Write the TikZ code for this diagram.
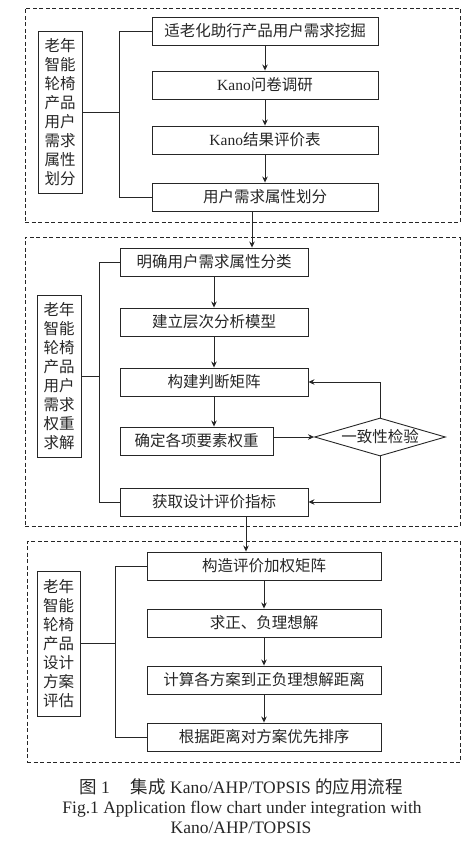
\documentclass[tikz,border=0pt]{standalone}
\usepackage{fontspec}
\setmainfont{Liberation Serif}
\newfontfamily\cjk{Noto Sans CJK SC}
\usetikzlibrary{arrows.meta,shapes.geometric}
\definecolor{ink}{HTML}{262626}
\tikzset{
  box/.style={draw=ink, line width=0.9pt, minimum height=28pt, inner sep=0pt,
    font=\cjk\fontsize{15.5}{19}\selectfont, text=ink},
  sidebox/.style={draw=ink, line width=0.9pt, inner sep=0pt, align=center,
    font=\cjk\fontsize{15.5}{19}\selectfont, text=ink},
  panel/.style={draw=ink, line width=0.9pt, dash pattern=on 4pt off 2.5pt},
  conn/.style={draw=ink, line width=0.9pt},
  arr/.style={conn, -{Stealth[length=6pt,width=5.5pt]}},
  dia/.style={draw=ink, line width=0.9pt, shape=diamond, aspect=3.45, inner sep=0pt,
    minimum width=131pt, minimum height=38pt,
    font=\cjk\fontsize{15.5}{19}\selectfont, text=ink},
  captext/.style={text=ink, inner sep=0pt, font=\fontsize{17.5}{20}\selectfont}
}
\begin{document}
\begin{tikzpicture}[x=1pt,y=-1pt]
\useasboundingbox (0,0) rectangle (470,845);
% ---------- panel 1
\node[panel, minimum width=435pt, minimum height=214pt, inner sep=0pt] (p1) at (242.5,115) {};
\node[box, minimum width=226pt] (a1) at (265,31) {适老化助行产品用户需求挖掘};
\node[box, minimum width=226pt] (a2) at (265,85) {\rmfamily Kano{\cjk 问卷调研}};
\node[box, minimum width=226pt] (a3) at (265,140) {\rmfamily Kano{\cjk 结果评价表}};
\node[box, minimum width=226pt] (a4) at (265,197) {用户需求属性划分};
\node[sidebox, minimum width=44pt, minimum height=162pt] (l1) at (60,112)
  {老年\\智能\\轮椅\\产品\\用户\\需求\\属性\\划分};
\coordinate (k1) at (119,0);
\draw[conn] (a1.west) -- (a1.west -| k1) -- (a4.west -| k1) -- (a4.west);
\draw[conn] (l1.east) -- (l1.east -| k1);
\draw[arr] (a1) -- (a2);
\draw[arr] (a2) -- (a3);
\draw[arr] (a3) -- (a4);
% ---------- panel 2
\node[panel, minimum width=435pt, minimum height=289pt, inner sep=0pt] (p2) at (242.5,381.5) {};
\node[box, minimum width=188pt] (b1) at (214,262) {明确用户需求属性分类};
\node[box, minimum width=188pt] (b2) at (214,322) {建立层次分析模型};
\node[box, minimum width=188pt] (b3) at (214,382) {构建判断矩阵};
\node[box, minimum width=153pt] (b4) at (196.5,441) {确定各项要素权重};
\node[box, minimum width=188pt] (b5) at (214,502) {获取设计评价指标};
\node[dia] (d1) at (380,437) {一致性检验};
\node[sidebox, minimum width=44pt, minimum height=162pt] (l2) at (59,376)
  {老年\\智能\\轮椅\\产品\\用户\\需求\\权重\\求解};
\coordinate (k2) at (99,0);
\draw[conn] (b1.west) -- (b1.west -| k2) -- (b5.west -| k2) -- (b5.west);
\draw[conn] (l2.east) -- (l2.east -| k2);
\draw[arr] (b1) -- (b2);
\draw[arr] (b2) -- (b3);
\draw[arr] (b3.south) -- (b3.south |- b4.north);
\draw[arr] (b4.east |- d1) -- (d1.west);
\draw[arr] (d1.north) |- (b3.east);
\draw[arr] (d1.south) |- (b5.east);
\coordinate (x1) at (252,0);
\draw[arr] (a4.south -| x1) -- (b1.north -| x1);
% ---------- panel 3
\node[panel, minimum width=433pt, minimum height=221pt, inner sep=0pt] (p3) at (243.5,651.5) {};
\node[box, minimum width=234pt] (c1) at (264,566) {构造评价加权矩阵};
\node[box, minimum width=234pt] (c2) at (264,623) {求正、负理想解};
\node[box, minimum width=234pt] (c3) at (264,680) {计算各方案到正负理想解距离};
\node[box, minimum width=234pt] (c4) at (264,737) {根据距离对方案优先排序};
\node[sidebox, minimum width=43pt, minimum height=145pt] (l3) at (58.5,643.5)
  {老年\\智能\\轮椅\\产品\\设计\\方案\\评估};
\coordinate (k3) at (115,0);
\draw[conn] (c1.west) -- (c1.west -| k3) -- (c4.west -| k3) -- (c4.west);
\draw[conn] (l3.east) -- (l3.east -| k3);
\draw[arr] (c1) -- (c2);
\draw[arr] (c2) -- (c3);
\draw[arr] (c3) -- (c4);
\coordinate (x2) at (246,0);
\draw[arr] (b5.south -| x2) -- (c1.north -| x2);
% ---------- caption
\node[captext] (t1) at (241,787) {{\cjk 图} 1\hspace{1.2em}{\cjk 集成} Kano/AHP/TOPSIS {\cjk 的应用流程}};
\node[captext] (t2) at (242,809) {Fig.1 Application flow chart under integration with};
\node[captext] (t3) at (241,828) {Kano/AHP/TOPSIS};
\end{tikzpicture}
\end{document}
